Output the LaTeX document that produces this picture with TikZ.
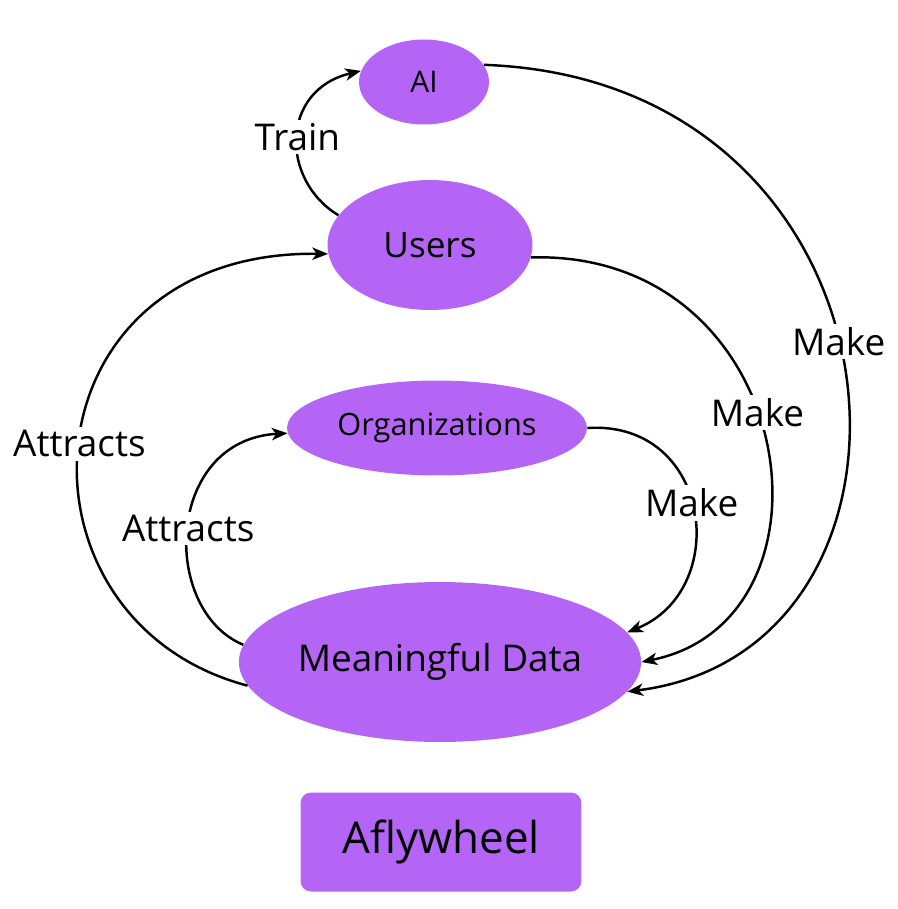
\documentclass[tikz,border=0pt]{standalone}
\usepackage{fontspec}
\setmainfont{Open Sans}
\usetikzlibrary{shapes.geometric,arrows.meta}
\definecolor{flypurple}{RGB}{181,101,245}

\begin{document}
\begin{tikzpicture}[x=0.02cm, y=-0.02cm,
                    blob/.style={ellipse, fill=flypurple, inner sep=0pt},
                    flow/.style={line width=1.4pt, -{Stealth[length=9pt,width=7pt,inset=2.5pt]}},
                    lbl/.style={fill=white, inner sep=2pt, font=\fontsize{21}{25}\selectfont}]
                    \useasboundingbox (0,0) rectangle (897,909);

                    % the blobs
                    \node[blob, minimum width=2.6cm, minimum height=1.7cm, font=\fontsize{17}{20}\selectfont] (ai) at (424,82) {AI};
                    \node[blob, minimum width=4.1cm, minimum height=2.6cm, font=\fontsize{20}{24}\selectfont] (users) at (430,245) {Users};
                    \node[blob, minimum width=6cm, minimum height=1.9cm, font=\fontsize{17.5}{21}\selectfont] (orgs) at (437,428) {Organizations};
                    \node[blob, minimum width=8cm, minimum height=3.2cm, font=\fontsize{21}{25}\selectfont] (data) at (440,662) {Meaningful Data};

                    \node[rounded corners=6pt, fill=flypurple, minimum width=5.62cm, minimum height=1.98cm, font=\fontsize{25}{30}\selectfont] (title) at (441,842) {Aflywheel};

                    % the loops
                    \draw[flow] (users.162) .. controls (280,180) and (280,90) .. (ai.170) node[lbl, pos=0.5] {Train};
                    \draw[flow] (ai.16) .. controls (920,80) and (960,650) .. (data.-9) node[lbl, pos=0.47] {Make};
                    \draw[flow] (users.-7) .. controls (800,250) and (850,620) .. (data.0) node[lbl, pos=0.45] {Make};
                    \draw[flow] (orgs.0) .. controls (712,420) and (732,590) .. (data.9) node[lbl, pos=0.47] {Make};
                    \draw[flow] (data.187) .. controls (0,620) and (20,250) .. (users.185) node[lbl, pos=0.5] {Attracts};
                    \draw[flow] (data.175) .. controls (160,610) and (165,440) .. (orgs.182) node[lbl, pos=0.5] {Attracts};
                \end{tikzpicture}
\end{document}
